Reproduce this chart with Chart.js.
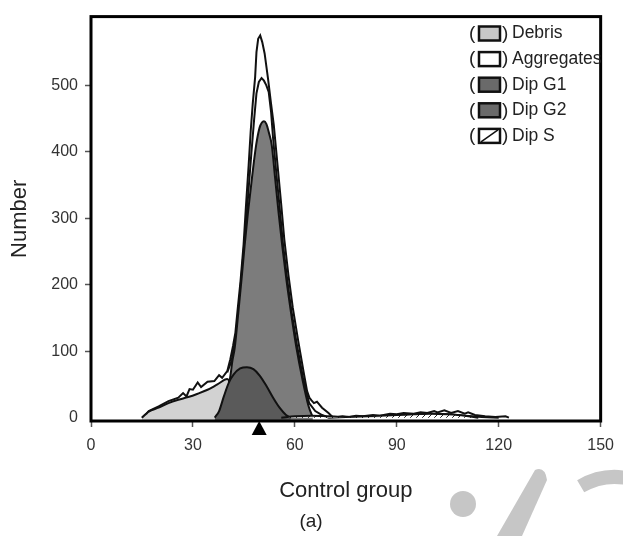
<!DOCTYPE html>
<html>
<head>
<meta charset="utf-8">
<script src="https://cdn.jsdelivr.net/npm/chart.js@4.4.0/dist/chart.umd.min.js"></script>
<style>
    body { margin: 0; background: #fff; }
    #wrap { width: 623px; height: 536px; }
</style>
</head>
<body>
<div id="wrap"><canvas id="cycleChart" width="623" height="536"></canvas></div>
<script>
// Traces (x = channel, y = number of events)
const outerX = [15, 16.1, 17, 19.9, 22.8, 25.7, 27.1, 28.1, 29, 30, 31.4, 32.4, 34.3, 36.3, 37.7, 38.6, 40.1, 41, 41.8, 42.5,
    43.2, 44, 44.9, 45.6, 46.4, 47, 47.6, 48.3, 48.7, 49.2, 49.8, 50.4, 51.1, 52.1, 53, 53.8, 54.9, 56, 56.9, 58.1,
    59.4, 61, 62.6, 63.6, 64.3, 64.9, 65.6, 66.5, 68, 69.9, 71.3, 74, 76, 78, 80, 83, 85, 88, 90, 92,
    95, 97, 99, 101, 102, 104, 106, 108, 110, 111, 113, 116, 119, 122, 123];
const outerY = [0, 5, 10, 17, 25, 30, 37, 32, 43, 42, 53, 46, 54, 55, 64, 60, 70, 88, 108, 128,
    165, 205, 260, 318, 380, 431, 472, 512, 550, 570, 575, 565, 548, 510, 472, 440, 380, 320, 268, 215,
    165, 115, 68, 40, 30, 26, 22, 24, 15, 7, 0, 2, 1, 3, 2, 4, 3, 6, 5, 7,
    6, 8, 7, 10, 8, 11, 7, 10, 6, 8, 4, 2, 1, 2, 0];

const innerX = [40.1, 41.4, 42.6, 43.7, 44.7, 45.6, 46.4, 47.2, 48.0, 48.7, 49.4, 50.2, 50.9, 51.6, 52.3, 53.0, 53.6, 54.6, 55.6, 56.5,
    57.7, 59.0, 60.6, 62.4, 64.2, 66, 68, 70, 75, 80, 85, 90, 95, 100, 105, 110, 115, 120];
const innerY = [68, 86, 122, 178, 238, 290, 345, 398, 448, 488, 505, 511, 507, 500, 490, 460, 420, 365, 312, 262,
    210, 160, 110, 60, 22, 10, 4, 0, 1, 1, 2, 4, 5, 6, 5, 3, 1, 0];

const debrisX = [15, 16.1, 17, 19.9, 22.8, 25.7, 28.6, 31.4, 34.3, 37.2, 40.1, 40.8, 41.5];
const debrisY = [0, 5, 9, 15, 22, 27, 31, 36, 42, 50, 58, 50, 0];

const g1X = [37, 39, 40.4, 41.0, 41.6, 42.3, 43.3, 44.3, 45.2, 46.2, 47.4, 48.6, 49.6, 50.3, 50.9, 51.6, 52.4, 53.2, 54.2, 55.2,
    56.3, 57.5, 58.9, 60.4, 62.3, 64.0, 65.3];
const g1Y = [0, 15, 45, 62, 85, 105, 155, 208, 258, 309, 362, 410, 436, 444, 446, 442, 428, 410, 360, 309,
    258, 208, 157, 107, 56, 18, 0];

const g2X = [36.4, 37.7, 39.1, 40.6, 42.0, 43.9, 45.9, 47.8, 49.7, 51.6, 53.6, 55.5, 57.4, 58.8];
const g2Y = [0, 10, 32, 53, 65, 74, 76, 73, 63, 48, 30, 15, 4, 0];

const sX = [56, 60, 65, 70, 75, 80, 85, 90, 95, 100, 105, 110, 114];
const sY = [0, 2, 3, 2, 1, 2, 3, 4, 5, 6, 5, 3, 0];

const markerX = [49.5];

const xTicks = [0, 30, 60, 90, 120, 150];
const yTicks = [0, 100, 200, 300, 400, 500];
const legendLabels = ['Debris', 'Aggregates', 'Dip G1', 'Dip G2', 'Dip S'];

const FONT = '"Liberation Sans", Arial, Helvetica, sans-serif';
const canvas = document.getElementById('cycleChart');
const ctx = canvas.getContext('2d');

// diagonal hatch used for the S phase
function makeHatch() {
    const c = document.createElement('canvas');
    c.width = 6;
    c.height = 6;
    const g = c.getContext('2d');
    g.fillStyle = '#fff';
    g.fillRect(0, 0, 6, 6);
    g.strokeStyle = '#222';
    g.lineWidth = 1;
    g.beginPath();
    g.moveTo(0, 6);
    g.lineTo(6, 0);
    g.stroke();
    return ctx.createPattern(c, 'repeat');
}

function pts(xs, ys) {
    return xs.map((x, i) => ({ x: x, y: ys[i] }));
}

function area(label, xs, ys, fillColor, order, smooth, fillTo) {
    return {
        label: label,
        data: pts(xs, ys),
        borderColor: '#111',
        borderWidth: 2,
        backgroundColor: fillColor,
        fill: fillTo || 'start',
        pointRadius: 0,
        tension: smooth ? 0.4 : 0,
        cubicInterpolationMode: smooth ? 'monotone' : 'default',
        order: order
    };
}

const legendFills = ['#c8c8c8', '#ffffff', '#6a6a6a', '#6a6a6a', 'hatch'];

const extrasPlugin = {
    id: 'extras',
    afterDatasetsDraw(chart) {
        const { ctx, chartArea: a, scales } = chart;
        ctx.save();
        // frame
        ctx.strokeStyle = '#000';
        ctx.lineWidth = 3;
        ctx.strokeRect(a.left, a.top, a.right - a.left, a.bottom - a.top);
        // marker under the axis
        const mx = scales.x.getPixelForValue(markerX[0]);
        ctx.fillStyle = '#000';
        ctx.beginPath();
        ctx.moveTo(mx, a.bottom);
        ctx.lineTo(mx + 7.5, a.bottom + 14);
        ctx.lineTo(mx - 7.5, a.bottom + 14);
        ctx.closePath();
        ctx.fill();

        // legend
        ctx.textBaseline = 'middle';
        ctx.textAlign = 'left';
        legendLabels.forEach((lab, i) => {
            const y = 33.5 + i * 25.6;
            ctx.fillStyle = '#222';
            ctx.font = '19px ' + FONT;
            ctx.fillText('(', 469, y);
            ctx.fillText(')', 502, y);
            ctx.font = '17.5px ' + FONT;
            ctx.fillText(lab, 512, y);
            const bx = 479, by = y - 7, bw = 21, bh = 14;
            ctx.fillStyle = legendFills[i] === 'hatch' ? '#fff' : legendFills[i];
            ctx.fillRect(bx, by, bw, bh);
            if (legendFills[i] === 'hatch') {
                ctx.strokeStyle = '#111';
                ctx.lineWidth = 1.5;
                ctx.beginPath();
                ctx.moveTo(bx + 2, by + bh - 1);
                ctx.lineTo(bx + bw - 2, by + 1);
                ctx.stroke();
            }
            ctx.strokeStyle = '#111';
            ctx.lineWidth = 2.5;
            ctx.strokeRect(bx, by, bw, bh);
        });

        // panel letter
        ctx.fillStyle = '#222';
        ctx.font = '19px ' + FONT;
        ctx.textAlign = 'center';
        ctx.fillText('(a)', 311, 522);

        // faint watermark shapes in the corner
        ctx.fillStyle = '#c6c6c6';
        ctx.beginPath();
        ctx.arc(463, 504, 13, 0, Math.PI * 2);
        ctx.fill();
        ctx.beginPath();
        ctx.moveTo(497, 536);
        ctx.lineTo(522, 536);
        ctx.lineTo(547, 480);
        ctx.quadraticCurveTo(545, 466, 535, 470);
        ctx.closePath();
        ctx.fill();
        ctx.strokeStyle = '#c6c6c6';
        ctx.lineWidth = 14;
        ctx.beginPath();
        ctx.arc(615, 545, 68, -2.1, -1.35);
        ctx.stroke();
        ctx.restore();
    }
};

const chart = new Chart(ctx, {
    type: 'line',
    data: {
        datasets: [
            area('Aggregates', outerX, outerY, '#ffffff', 6, false),
            area('Aggregates (model)', innerX, innerY, '#ffffff', 5, false),
            area('Debris', debrisX, debrisY, '#d2d2d2', 4, true),
            area('Dip G1', g1X, g1Y, '#7c7c7c', 3, true),
            area('Dip G2', g2X, g2Y, '#5a5a5a', 2, true),
            area('Dip S', sX, sY, makeHatch(), 1, true, 'origin')
        ]
    },
    options: {
        responsive: false,
        animation: false,
        devicePixelRatio: 1,
        layout: { padding: { top: 15, right: 12, left: 0, bottom: 0 } },
        plugins: {
            legend: { display: false },
            tooltip: { enabled: false }
        },
        scales: {
            x: {
                type: 'linear',
                min: 0,
                max: 150,
                afterBuildTicks: s => { s.ticks = xTicks.map(v => ({ value: v })); },
                afterFit: s => { s.height = 115; },
                border: { display: false },
                grid: { drawOnChartArea: false, tickLength: 6, tickColor: '#555', tickWidth: 1.5 },
                ticks: { padding: 9, color: '#333', maxRotation: 0, font: { family: FONT, size: 16 } },
                title: {
                    display: true,
                    text: 'Control group',
                    color: '#222',
                    font: { family: FONT, size: 22 },
                    padding: { top: 0, bottom: 32 }
                }
            },
            y: {
                min: -5,
                max: 603.4,
                afterBuildTicks: s => { s.ticks = yTicks.map(v => ({ value: v })); },
                afterFit: s => { s.width = 91; },
                border: { display: false },
                grid: {
                    drawOnChartArea: false,
                    tickLength: 6,
                    tickWidth: 1.5,
                    tickColor: c => (c.tick && c.tick.value === 0) ? 'rgba(0,0,0,0)' : '#555'
                },
                ticks: { padding: 7, color: '#333', font: { family: FONT, size: 16 } },
                title: {
                    display: true,
                    text: 'Number',
                    color: '#222',
                    font: { family: FONT, size: 22 },
                    padding: { top: 7, bottom: 0 }
                }
            }
        }
    },
    plugins: [extrasPlugin]
});
</script>
</body>
</html>
